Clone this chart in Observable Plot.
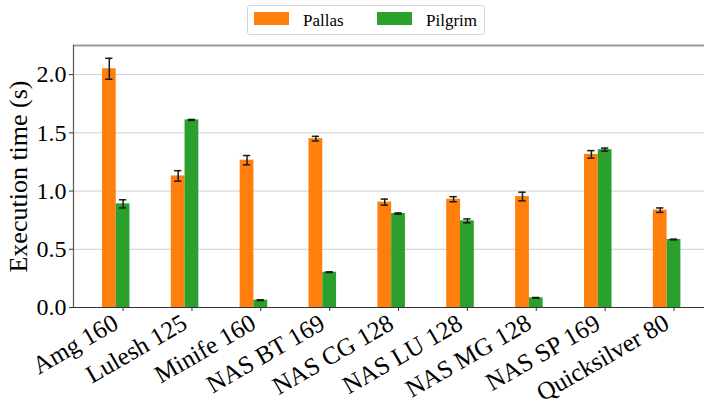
<!DOCTYPE html>
<html>
<head>
<meta charset="utf-8">
<script src="https://cdn.jsdelivr.net/npm/d3@7"></script>
<script src="https://cdn.jsdelivr.net/npm/@observablehq/plot@0.6"></script>
<style>
  body { margin: 0; background: #fff; overflow: hidden; }
  #wrap { position: relative; width: 704px; height: 404px; font-family: "Liberation Serif", "Times New Roman", serif; }
  #legend { position: absolute; left: 247px; top: 5px; width: 236px; height: 28px; border: 1px solid #d6d6d6; border-radius: 3px; background: #fff; }
  .sw { position: absolute; width: 35px; height: 13px; }
  .lb { position: absolute; font-size: 17px; line-height: 1; color: #000; }
</style>
</head>
<body>
<div id="wrap">
  <div id="legend"></div>
</div>
<script>
// Execution time per benchmark (seconds), mean and error for each runtime
const categories = ["Amg 160", "Lulesh 125", "Minife 160", "NAS BT 169", "NAS CG 128", "NAS LU 128", "NAS MG 128", "NAS SP 169", "Quicksilver 80"];
const series = ["Pallas", "Pilgrim"];
const pallas    = [2.05, 1.13, 1.265, 1.45, 0.905, 0.93, 0.953, 1.315, 0.836];
const pallasErr = [0.09, 0.045, 0.04, 0.02, 0.026, 0.022, 0.037, 0.032, 0.019];
const pilgrim    = [0.89, 1.611, 0.063, 0.303, 0.807, 0.744, 0.083, 1.356, 0.584];
const pilgrimErr = [0.035, 0.004, 0.003, 0.003, 0.005, 0.017, 0.003, 0.013, 0.003];
const colors = ["#ff7f0e", "#2ca02c"];
const yTicks = [0, 0.5, 1.0, 1.5, 2.0];
const yLabel = "Execution time (s)";

// bar geometry in category units: Pallas sits left of the tick, Pilgrim on it
const barW = 0.2;
const offset = {Pallas: -0.2, Pilgrim: 0};
const cap = 0.053;

const rows = categories.flatMap((c, i) => [
  {i, series: "Pallas", v: pallas[i], e: pallasErr[i]},
  {i, series: "Pilgrim", v: pilgrim[i], e: pilgrimErr[i]}
]);
rows.forEach(d => { d.c = d.i + offset[d.series]; });

const idx = d3.range(categories.length);
const xDomain = [-0.72, 8.443];

const chart = Plot.plot({
  width: 704,
  height: 404,
  marginTop: 45,
  marginBottom: 97,
  marginLeft: 73,
  marginRight: 0,
  style: {fontFamily: "'Liberation Serif', 'Times New Roman', serif", background: "transparent", overflow: "visible"},
  x: {domain: xDomain, axis: null},
  y: {domain: [0, 2.25], axis: null},
  color: {domain: series, range: colors},
  marks: [
    Plot.gridY(yTicks, {stroke: "#cfcfcf", strokeOpacity: 1, strokeWidth: 1}),
    Plot.rectY(rows, {x1: d => d.c - barW / 2, x2: d => d.c + barW / 2, y1: 0, y2: "v", fill: "series"}),
    // error bars with caps
    Plot.ruleX(rows, {x: "c", y1: d => d.v - d.e, y2: d => d.v + d.e, stroke: "#1a1a1a", strokeWidth: 1.5}),
    Plot.ruleY(rows, {y: d => d.v - d.e, x1: d => d.c - cap, x2: d => d.c + cap, stroke: "#1a1a1a", strokeWidth: 1.5}),
    Plot.ruleY(rows, {y: d => d.v + d.e, x1: d => d.c - cap, x2: d => d.c + cap, stroke: "#1a1a1a", strokeWidth: 1.5}),
    // spines
    Plot.ruleY([2.25], {stroke: "#9a9a9a", strokeWidth: 2}),
    Plot.ruleX([xDomain[0]], {stroke: "#555", strokeWidth: 1.2}),
    Plot.ruleY([0], {stroke: "#333", strokeWidth: 1.2}),
    // axes
    Plot.axisY({ticks: yTicks, tickFormat: d3.format(".1f"), tickSize: 4, tickPadding: 3, fontSize: 24, stroke: "#333", label: null}),
    Plot.axisX({ticks: idx, tickFormat: () => "", tickSize: 4, stroke: "#333", label: null}),
    Plot.text(idx, {
      x: d => d, frameAnchor: "bottom", text: d => categories[d],
      rotate: -30, textAnchor: "end", lineAnchor: "top",
      dx: -12, dy: 5, fontSize: 25, fill: "#000"
    }),
    Plot.text([yLabel], {
      frameAnchor: "left", rotate: -90, textAnchor: "middle", lineAnchor: "middle",
      dx: -55, fontSize: 26, fill: "#000"
    })
  ]
});
document.getElementById("wrap").appendChild(chart);

// legend
const legend = document.getElementById("legend");
const swX = [254, 377], lbX = [303, 426];
series.forEach((s, k) => {
  const sw = document.createElement("div");
  sw.className = "sw";
  sw.style.left = (swX[k] - 248) + "px";
  sw.style.top = "6px";
  sw.style.background = colors[k];
  legend.appendChild(sw);
  const lb = document.createElement("div");
  lb.className = "lb";
  lb.style.left = (lbX[k] - 248) + "px";
  lb.style.top = "6px";
  lb.textContent = s;
  legend.appendChild(lb);
});
</script>
</body>
</html>
